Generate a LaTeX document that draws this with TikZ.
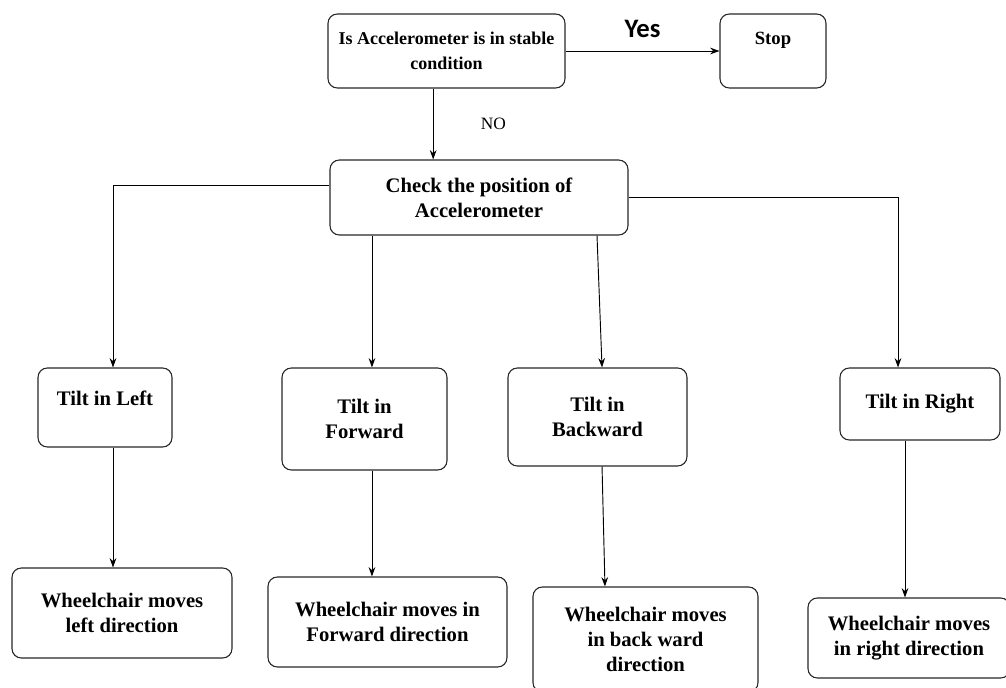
\documentclass[tikz,border=0pt]{standalone}
\usepackage{fontspec}
\setmainfont{Liberation Serif}
\newfontfamily\yesfont{Carlito}
\usetikzlibrary{arrows.meta, positioning}

\begin{document}
\begin{tikzpicture}[x=0.75pt, y=-0.75pt,
  box/.style={draw=black!85, line width=0.8pt, rounded corners=7pt, align=center,
    font=\bfseries\fontsize{15.5}{18.75}\selectfont, inner sep=2pt},
  arr/.style={-{Stealth[length=7pt,width=5pt]}, line width=0.7pt}]
\useasboundingbox (0,0) rectangle (1006,688);

\node[box, minimum width=177.75pt, minimum height=55.5pt, font=\bfseries\fontsize{13.5}{18.75}\selectfont] (cond) at (446.5,51) {Is Accelerometer is in stable\\condition};
\node[box, minimum width=79.5pt, minimum height=55.5pt, text depth=19pt, font=\bfseries\fontsize{14}{18.75}\selectfont] (stop) at (773,51) {Stop};
\node[box, minimum width=223.5pt, minimum height=56.25pt] (check) at (479,197.5) {Check the position of\\Accelerometer};

\node[box, minimum width=100.5pt, minimum height=59.25pt, text depth=14pt] (tleft) at (105,407.5) {Tilt in Left};
\node[box, minimum width=123.75pt, minimum height=76.5pt] (tfwd) at (364.5,419) {Tilt in\\Forward};
\node[box, minimum width=134.25pt, minimum height=73.5pt] (tback) at (597.5,417) {Tilt in\\Backward};
\node[box, minimum width=120pt, minimum height=54pt] (tright) at (920,404) {Tilt in Right};

\node[box, minimum width=165pt, minimum height=67.5pt] (mleft) at (122,613) {Wheelchair moves\\left direction};
\node[box, minimum width=179.25pt, minimum height=67.5pt] (mfwd) at (387.5,622) {Wheelchair moves in\\Forward direction};
\node[box, minimum width=168.75pt, minimum height=78.75pt] (mback) at (645.5,639.5) {Wheelchair moves\\in back ward\\direction};
\node[box, minimum width=151.5pt, minimum height=60pt] (mright) at (909,638) {Wheelchair moves\\in right direction};

\draw[arr] (cond.east) -- (stop.west) node[midway, above=6pt, font=\yesfont\bfseries\fontsize{20}{22}\selectfont] (yes) {Yes};
\draw[arr] ([xshift=-10pt]cond.south) -- ([xshift=-10pt]cond.south |- check.north) node[midway, right=32pt, font=\fontsize{13}{15}\selectfont] (no) {NO};

\draw[arr] ([yshift=9.4pt]check.west) -| ([xshift=6pt]tleft.north);
\draw[arr] ([xshift=5.6pt]tfwd.north |- check.south) -- ([xshift=5.6pt]tfwd.north);
\draw[arr] ([xshift=88.5pt]check.south) -- ([xshift=3.4pt]tback.north);
\draw[arr] (check.east) -| ([xshift=-16.5pt]tright.north);

\draw[arr] ([xshift=6pt]tleft.south) -- ([xshift=6pt]tleft.south |- mleft.north);
\draw[arr] ([xshift=5.6pt]tfwd.south) -- ([xshift=5.6pt]tfwd.south |- mfwd.north);
\draw[arr] ([xshift=3.4pt]tback.south) -- ([xshift=-30.4pt]mback.north);
\draw[arr] ([xshift=-11.25pt]tright.south) -- ([xshift=-11.25pt]tright.south |- mright.north);
\end{tikzpicture}
\end{document}
